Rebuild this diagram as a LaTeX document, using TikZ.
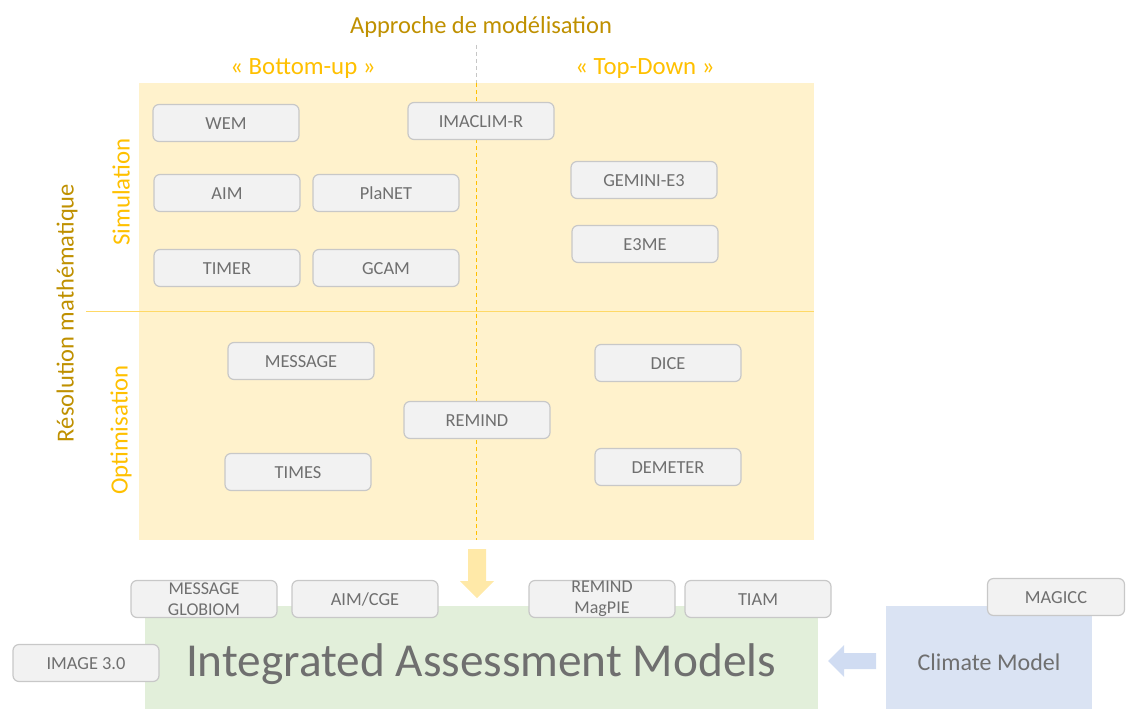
\documentclass[tikz,border=0pt]{standalone}
\usepackage{fontspec}
\setmainfont{Carlito}
\usetikzlibrary{shapes.arrows}
\definecolor{regionY}{HTML}{FFF2CC}
\definecolor{goldD}{HTML}{BF9000}
\definecolor{goldL}{HTML}{FFC000}
\definecolor{lineY}{HTML}{FFD966}
\definecolor{boxF}{HTML}{F2F2F2}
\definecolor{boxD}{HTML}{C8C8C8}
\definecolor{txtG}{HTML}{6F6F6F}
\definecolor{greenF}{HTML}{E2EFDA}
\definecolor{blueF}{HTML}{DAE3F3}
\definecolor{arrowB}{HTML}{D0DCF2}
\definecolor{arrowY}{HTML}{FFE9A8}
\begin{document}
\begin{tikzpicture}[x=1pt,y=-1pt,
  model/.style={draw=boxD,line width=1.2pt,fill=boxF,rounded corners=6pt,minimum width=146pt,minimum height=37pt,inner sep=0pt,text=txtG,font=\fontsize{18.4}{21}\selectfont,align=center,text height=13pt,text depth=0pt},
  model2/.style={draw=boxD,line width=1.2pt,fill=boxF,rounded corners=6pt,minimum width=146pt,minimum height=37pt,inner sep=0pt,text=txtG,align=center,font=\fontsize{18}{21}\selectfont},
  axisT/.style={text=goldD,font=\fontsize{24.5}{28}\selectfont},
  catT/.style={text=goldL,font=\fontsize{24.8}{28}\selectfont},
  bigT/.style={text=txtG}
]
\useasboundingbox (0,0) rectangle (1126,709);
% main region
\fill[regionY] (139,83) rectangle (814,540);
\draw[gray!45,dash pattern=on 4pt off 3pt,line width=0.7pt] (476,45) -- (476,83);
\draw[goldL,dash pattern=on 4pt off 3pt,line width=0.7pt] (476,83) -- (476,540);
\draw[lineY,line width=1pt] (86,311) -- (814,311);
% labels
\node[axisT] (title) at (481,27) {Approche de modélisation};
\node[catT] (bu) at (303,69) {« Bottom-up »};
\node[catT] (td) at (645,69) {« Top-Down »};
\node[axisT,rotate=90] (res) at (67,313) {Résolution mathématique};
\node[catT,rotate=90] (sim) at (121,192) {Simulation};
\node[catT,rotate=90] (opt) at (121,430) {Optimisation};
% models
\node[model] (wem) at (226,123) {WEM};
\node[model] (imaclim) at (481,121) {IMACLIM-R};
\node[model] (aim) at (227,193) {AIM};
\node[model] (planet) at (386,193) {PlaNET};
\node[model] (timer) at (227,268) {TIMER};
\node[model] (gcam) at (386,268) {GCAM};
\node[model] (gemini) at (644,180) {GEMINI-E3};
\node[model] (e3me) at (645,244) {E3ME};
\node[model] (message) at (301,361) {MESSAGE};
\node[model] (dice) at (668,363) {DICE};
\node[model] (remind) at (477,420) {REMIND};
\node[model] (times) at (298,472) {TIMES};
\node[model] (demeter) at (668,467) {DEMETER};
% bottom
\fill[greenF] (145,606) rectangle (818,709);
\fill[blueF] (886,606) rectangle (1092,709);
\node[bigT,font=\fontsize{47.3}{52}\selectfont] (iam) at (481,664) {Integrated Assessment Models};
\node[bigT,font=\fontsize{24}{28}\selectfont] (cm) at (989,662) {Climate Model};
\fill[arrowY] (468,549) -- (486,549) -- (486,581) -- (494,581) -- (477,598) -- (460,581) -- (468,581) -- cycle;
\fill[arrowB] (876,653) -- (844,653) -- (844,645) -- (828,661) -- (844,677) -- (844,669) -- (876,669) -- cycle;
\node[model2] (mg) at (204,599) {MESSAGE\\GLOBIOM};
\node[model] (aimcge) at (365,599) {AIM/CGE};
\node[model2] (rm) at (602,599) {REMIND\\MagPIE};
\node[model] (tiam) at (758,599) {TIAM};
\node[model] (image) at (86,663) {IMAGE 3.0};
\node[model,minimum width=137pt] (magicc) at (1056,597) {MAGICC};
\end{tikzpicture}
\end{document}
